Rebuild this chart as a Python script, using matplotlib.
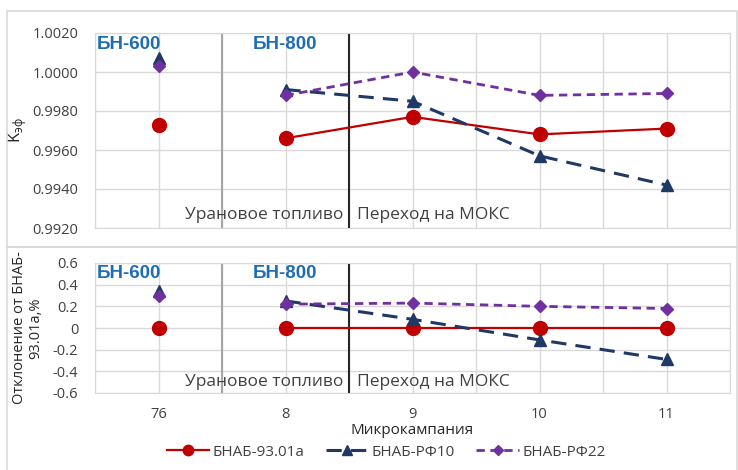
import matplotlib.pyplot as plt
import numpy as np
from matplotlib.lines import Line2D

plt.rcParams['font.family'] = ['Open Sans', 'DejaVu Sans']
plt.rcParams['mathtext.fontset'] = 'custom'
plt.rcParams['mathtext.rm'] = 'Open Sans'

# micro-campaigns (76 is the BN-600 reference point)
campaigns = ['76', '8', '9', '10', '11']

# k_eff
keff_9301a = [0.9973, 0.9966, 0.9977, 0.9968, 0.9971]
keff_rf10 = [1.0007, 0.9991, 0.9985, 0.9957, 0.9942]
keff_rf22 = [1.0003, 0.9988, 1.0000, 0.9988, 0.9989]

# deviation from BNAB-93.01a, %
dev_9301a = [0.0, 0.0, 0.0, 0.0, 0.0]
dev_rf10 = [0.34, 0.25, 0.08, -0.11, -0.29]
dev_rf22 = [0.30, 0.22, 0.23, 0.20, 0.18]

keff_ticks = [0.9920, 0.9940, 0.9960, 0.9980, 1.0000, 1.0020]
dev_ticks = [-0.6, -0.4, -0.2, 0, 0.2, 0.4, 0.6]

styles = [
    dict(color='#C00000', ls='-', lw=1.6, marker='o', ms=10, label='БНАБ-93.01а'),
    dict(color='#1F3864', ls=(0, (5, 3)), lw=2.2, marker='^', ms=9, label='БНАБ-РФ10'),
    dict(color='#7030A0', ls=(0, (3, 2)), lw=2.0, marker='D', ms=6.5, label='БНАБ-РФ22'),
]

x = np.arange(len(campaigns)) + 0.5
grid_c = '#d9d9d9'
txt_c = '#404040'

fig = plt.figure(figsize=(7.38, 4.70), dpi=100)

# outer frame and divider between panels
fig.add_artist(plt.Rectangle((7 / 738, -0.01), 730 / 738, 1 - 11 / 470 + 0.01,
                             transform=fig.transFigure, fill=False, ec=grid_c, lw=1.2))
fig.add_artist(Line2D([7 / 738, 737 / 738], [1 - 247 / 470] * 2,
                      transform=fig.transFigure, color=grid_c, lw=1.5))

ax1 = fig.add_axes([95 / 738, 1 - 228 / 470, 635 / 738, 195 / 470])
ax2 = fig.add_axes([95 / 738, 1 - 393 / 470, 635 / 738, 130 / 470])


def draw_series(ax, data):
    for vals, st in zip(data, styles):
        # BN-600 point stands alone, BN-800 campaigns are joined
        ax.plot(x[:1], vals[:1], **{k: v for k, v in st.items() if k != 'label'})
        ax.plot(x[1:], vals[1:], **st)


def dress(ax, ylim, ticks, fmt, text_y):
    ax.set_xlim(0, len(campaigns))
    ax.set_ylim(*ylim)
    ax.set_yticks(ticks)
    ax.set_yticklabels([fmt(t) for t in ticks])
    ax.set_xticks(np.arange(0, len(campaigns) + 0.5, 0.5), minor=False)
    ax.grid(True, color=grid_c, lw=1.0)
    ax.set_axisbelow(True)
    ax.tick_params(length=0, labelsize=10.5, colors=txt_c, pad=12)
    for sp in ax.spines.values():
        sp.set_color(grid_c)
    ax.axvline(1.0, color='#a6a6a6', lw=1.5, zorder=1)
    ax.axvline(2.0, color='#262626', lw=1.5, zorder=1)
    ax.text(0.003, 0.985, 'БН-600', transform=ax.transAxes, ha='left', va='top',
            color='#1F6DB5', fontsize=13.5, fontweight='bold', family=['Liberation Sans'])
    ax.text(1.5, 0.985, 'БН-800', transform=ax.get_xaxis_transform(), ha='center', va='top',
            color='#1F6DB5', fontsize=13.5, fontweight='bold', family=['Liberation Sans'])
    ax.text(1.955, text_y, 'Урановое топливо', transform=ax.get_xaxis_transform(),
            ha='right', va='center', color=txt_c, fontsize=12.5)
    ax.text(2.06, text_y, 'Переход на МОКС', transform=ax.get_xaxis_transform(),
            ha='left', va='center', color=txt_c, fontsize=12.5)


draw_series(ax1, [keff_9301a, keff_rf10, keff_rf22])
dress(ax1, (0.9920, 1.0020), keff_ticks, lambda t: f'{t:.4f}', 0.068)
ax1.set_xticklabels([])
ax1.set_ylabel('K$_{\\mathrm{эф}}$', fontsize=12, color='#262626')
ax1.yaxis.set_label_coords(-0.104, 0.5)

draw_series(ax2, [dev_9301a, dev_rf10, dev_rf22])
dress(ax2, (-0.6, 0.6), dev_ticks, lambda t: f'{t:g}', 0.085)
labels = []
for i in range(len(campaigns) * 2 + 1):
    labels.append(campaigns[i // 2] if i % 2 == 1 else '')
ax2.set_xticklabels(labels)
ax2.tick_params(axis='x', pad=10)
ax2.set_ylabel('Отклонение от БНАБ-\n93.01а,%', fontsize=10.5, color='#262626',
               linespacing=1.1)
ax2.yaxis.set_label_coords(-0.082, 0.5)
ax2.set_xlabel('Микрокампания', fontsize=11, color='#262626', labelpad=1)

handles = [Line2D([], [], **st) for st in styles]
fig.legend(handles=handles, loc='center', bbox_to_anchor=(386 / 738, 1 - 452 / 470),
           ncol=3, frameon=False, fontsize=11, handlelength=2.8, columnspacing=1.4,
           handletextpad=0.2, labelcolor=txt_c, markerscale=0.75)

fig.savefig('out.png', dpi=100)
